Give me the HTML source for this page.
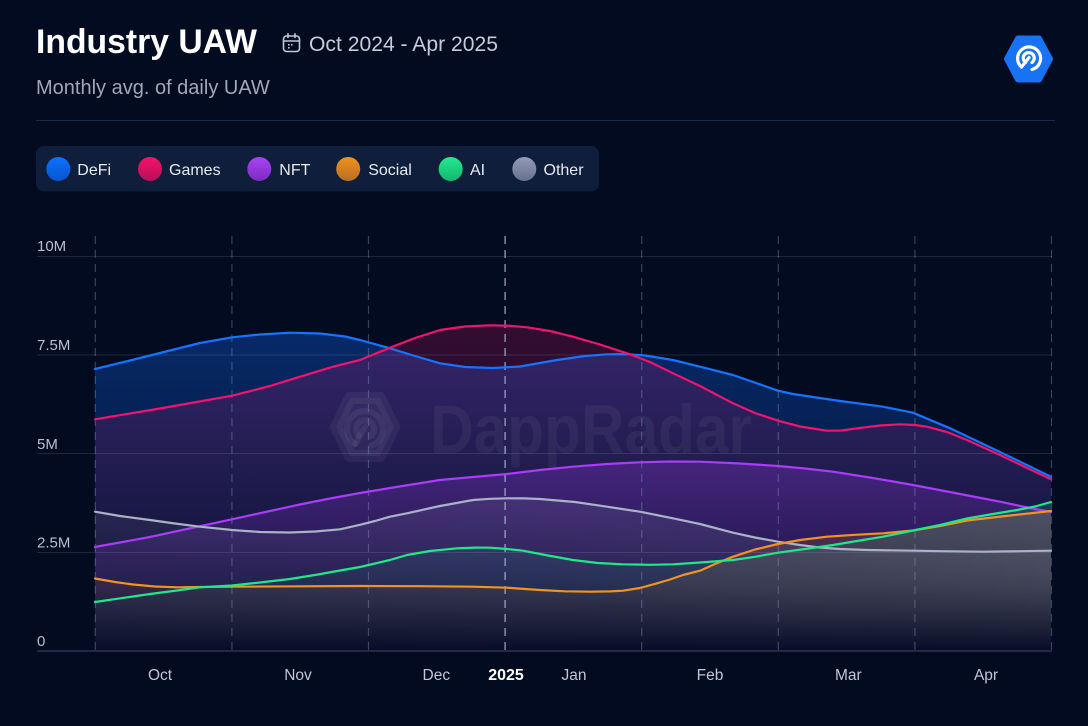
<!DOCTYPE html>
<html>
<head>
<meta charset="utf-8">
<style>
  html,body{margin:0;padding:0;}
  body{width:1088px;height:726px;background:#020b20;overflow:hidden;position:relative;font-family:"Liberation Sans",Arial,sans-serif;}
</style>
</head>
<body>
<svg width="1088" height="726" viewBox="0 0 1088 726" xmlns="http://www.w3.org/2000/svg" style="position:absolute;left:0;top:0;font-family:'Liberation Sans',Arial,sans-serif;">
  <defs>
    <linearGradient id="gDeFi" x1="0" y1="0" x2="0" y2="1">
      <stop offset="0" stop-color="#0d4fc0" stop-opacity="0.45"/>
      <stop offset="1" stop-color="#0d4fc0" stop-opacity="0.02"/>
    </linearGradient>
    <linearGradient id="gGames" x1="0" y1="0" x2="0" y2="1">
      <stop offset="0" stop-color="#e0136f" stop-opacity="0.22"/>
      <stop offset="1" stop-color="#e0136f" stop-opacity="0.01"/>
    </linearGradient>
    <linearGradient id="gNFT" x1="0" y1="0" x2="0" y2="1">
      <stop offset="0" stop-color="#a53bf5" stop-opacity="0.26"/>
      <stop offset="1" stop-color="#a53bf5" stop-opacity="0.01"/>
    </linearGradient>
    <linearGradient id="gSocial" x1="0" y1="0" x2="0" y2="1">
      <stop offset="0" stop-color="#f3921c" stop-opacity="0.18"/>
      <stop offset="0.55" stop-color="#f3921c" stop-opacity="0.12"/>
      <stop offset="1" stop-color="#f3921c" stop-opacity="0"/>
    </linearGradient>
    <linearGradient id="gAI" x1="0" y1="0" x2="0" y2="1">
      <stop offset="0" stop-color="#1ee88a" stop-opacity="0.17"/>
      <stop offset="0.55" stop-color="#1ee88a" stop-opacity="0.1"/>
      <stop offset="1" stop-color="#1ee88a" stop-opacity="0"/>
    </linearGradient>
    <linearGradient id="gOther" x1="0" y1="0" x2="0" y2="1">
      <stop offset="0" stop-color="#8a95b0" stop-opacity="0.2"/>
      <stop offset="0.55" stop-color="#8a95b0" stop-opacity="0.12"/>
      <stop offset="1" stop-color="#8a95b0" stop-opacity="0"/>
    </linearGradient>
    <linearGradient id="hmaskg" gradientUnits="userSpaceOnUse" x1="95" y1="0" x2="1051" y2="0">
      <stop offset="0" stop-color="#ffffff" stop-opacity="0.6"/>
      <stop offset="0.5" stop-color="#ffffff" stop-opacity="0.75"/>
      <stop offset="1" stop-color="#ffffff" stop-opacity="1"/>
    </linearGradient>
    <mask id="hmask" maskUnits="userSpaceOnUse" x="0" y="0" width="1088" height="726">
      <rect x="0" y="0" width="1088" height="726" fill="url(#hmaskg)"/>
    </mask>
    <linearGradient id="lgDeFi" x1="0" y1="0" x2="0" y2="1"><stop offset="0" stop-color="#0b72ff"/><stop offset="1" stop-color="#0a55cc"/></linearGradient>
    <linearGradient id="lgGames" x1="0" y1="0" x2="0" y2="1"><stop offset="0" stop-color="#f7126c"/><stop offset="1" stop-color="#b80f58"/></linearGradient>
    <linearGradient id="lgNFT" x1="0" y1="0" x2="0" y2="1"><stop offset="0" stop-color="#a944f5"/><stop offset="1" stop-color="#7b2cc0"/></linearGradient>
    <linearGradient id="lgSocial" x1="0" y1="0" x2="0" y2="1"><stop offset="0" stop-color="#f0921e"/><stop offset="1" stop-color="#b86f22"/></linearGradient>
    <linearGradient id="lgAI" x1="0" y1="0" x2="0" y2="1"><stop offset="0" stop-color="#22ea8f"/><stop offset="1" stop-color="#12b86e"/></linearGradient>
    <linearGradient id="lgOther" x1="0" y1="0" x2="0" y2="1"><stop offset="0" stop-color="#939cb6"/><stop offset="1" stop-color="#66708d"/></linearGradient>
  </defs>

  <!-- Header -->
  <text x="36" y="53" font-size="34" font-weight="bold" fill="#ffffff" textLength="221" lengthAdjust="spacingAndGlyphs">Industry UAW</text>
  <g stroke="#c0c7d5" stroke-width="1.6" fill="none" stroke-linecap="round">
    <rect x="283.5" y="36" width="16" height="15.5" rx="3"/>
    <line x1="283.5" y1="41" x2="299.5" y2="41"/>
    <line x1="288" y1="33.8" x2="288" y2="37.5"/>
    <line x1="295" y1="33.8" x2="295" y2="37.5"/>
  </g>
  <g fill="#c0c7d5">
    <rect x="288" y="44" width="1.6" height="1.6"/>
    <rect x="291" y="44" width="1.6" height="1.6"/>
    <rect x="288" y="47" width="1.6" height="1.6"/>
  </g>
  <text x="309" y="51" font-size="21" fill="#c5ccd8" textLength="189" lengthAdjust="spacingAndGlyphs">Oct 2024 - Apr 2025</text>
  <text x="36" y="94" font-size="20" fill="#a0a8b8">Monthly avg. of daily UAW</text>

  <!-- Logo -->
  <polygon points="1007,59 1018,38.5 1039,38.5 1050,59 1039,79.5 1018,79.5" fill="#1773f3" stroke="#1773f3" stroke-width="6" stroke-linejoin="round"/>
  <g stroke="#ffffff" stroke-width="3.2" fill="none" stroke-linecap="round">
    <path d="M1021.5,67 A11.5,11.5 0 1 1 1032,69.5"/>
    <path d="M1025.5,62.5 A5.5,5.5 0 1 1 1032,62.5"/>
    <line x1="1029" y1="57.5" x2="1021.5" y2="67"/>
  </g>

  <!-- separator -->
  <line x1="36" y1="120.5" x2="1055" y2="120.5" stroke="#1b2a47" stroke-width="1"/>

  <!-- Legend -->
  <rect x="36" y="146" width="563" height="45.5" rx="8" fill="#0f1e3b"/>
  <circle cx="58.3" cy="169" r="12" fill="url(#lgDeFi)"/>
  <text x="77.3" y="175" font-size="16" fill="#e6e9f0">DeFi</text>
  <circle cx="150" cy="169" r="12" fill="url(#lgGames)"/>
  <text x="169" y="175" font-size="16" fill="#e6e9f0">Games</text>
  <circle cx="259.3" cy="169" r="12" fill="url(#lgNFT)"/>
  <text x="279.3" y="175" font-size="16" fill="#e6e9f0">NFT</text>
  <circle cx="348.2" cy="169" r="12" fill="url(#lgSocial)"/>
  <text x="368.2" y="175" font-size="16" fill="#e6e9f0">Social</text>
  <circle cx="450.7" cy="169" r="12" fill="url(#lgAI)"/>
  <text x="470" y="175" font-size="16" fill="#e6e9f0">AI</text>
  <circle cx="524.3" cy="169" r="12" fill="url(#lgOther)"/>
  <text x="543.5" y="175" font-size="16" fill="#e6e9f0">Other</text>

  <!-- Area fills -->
  <path fill="url(#gDeFi)" d="M95,369 L128,361 L160,353 L200,343 L232,337.3 L260,334.5 L290,332.7 L320,333.5 L345,336.5 L360,340 L390,348.3 L415,356 L440,363.3 L465,367 L493,368 L520,366.5 L557,360 L585,356 L607,354.3 L625,354 L645,355.5 L673,360 L700,366.7 L733,375 L778,390.7 L793,394 L833,400 L883,406.7 L913,412.7 L950,428.3 L1000,452 L1051,476.7 L1051,651 L95,651 Z"/>
  <path fill="url(#gGames)" d="M95,419.3 L160,408.5 L232,395.7 L270,386 L300,376.7 L333,366.7 L360,360 L390,347.7 L415,338 L440,330 L465,326.5 L490,325.3 L510,325.8 L527,327.3 L550,331 L573,336.7 L600,344.5 L630,354.3 L650,362 L673,373.3 L700,386 L733,403.3 L755,413 L778,420.7 L800,426.5 L827,430.7 L842,430.5 L857,428.3 L880,425.5 L900,424.3 L915,425 L927,426.7 L947,432 L967,440 L1000,455 L1025,467 L1051,479.3 L1051,651 L95,651 Z"/>
  <path fill="url(#gNFT)" d="M95,547 L150,537 L200,526.2 L232,519.3 L270,511 L300,504.5 L330,498.5 L360,493 L390,488 L440,480 L473,477 L507,474 L540,470 L573,466.7 L607,464 L640,462.3 L670,461.5 L700,461.7 L740,463.5 L778,466 L805,468.5 L833,471.7 L873,478 L913,485 L955,493 L1000,501.7 L1025,507 L1051,512 L1051,651 L95,651 Z"/>
  <g mask="url(#hmask)">
  <path fill="url(#gSocial)" d="M95,578.5 L115,582 L133,584.5 L155,586.5 L177,587.3 L200,587 L232,586.7 L300,586.3 L360,586 L420,586.2 L473,586.7 L507,587.7 L525,589 L540,590 L565,591.3 L590,591.7 L610,591.4 L623,590.7 L640,588 L657,583.3 L670,579.5 L683,575 L700,570.7 L715,564 L733,556.7 L755,549.5 L778,544 L800,540 L827,536.7 L855,534.8 L883,533.3 L913,530.5 L940,526 L967,520.5 L1010,515.5 L1051,511 L1051,651 L95,651 Z"/>
  <path fill="url(#gAI)" d="M95,602 L150,594 L177,590.5 L200,587.3 L232,585.5 L260,582.5 L290,579 L315,575 L340,570.5 L360,567 L375,563.5 L390,560 L407,555 L430,551 L457,548.3 L475,547.6 L490,547.7 L507,549 L523,550.7 L548,555.5 L573,560 L598,563 L623,564.3 L650,564.8 L673,564.3 L700,562.5 L733,560 L755,556.8 L778,552.7 L805,549 L833,545 L860,540.5 L883,536.7 L913,530.5 L940,525 L967,518.5 L990,514.5 L1017,510 L1035,506.5 L1051,502 L1051,651 L95,651 Z"/>
  <path fill="url(#gOther)" d="M95,511.7 L120,516 L150,520 L175,523.5 L200,526.7 L232,530 L260,532 L290,532.5 L315,531.5 L340,529.3 L360,524.8 L375,521 L390,516.7 L407,513.3 L440,506 L473,500 L490,498.8 L507,498.3 L525,498.4 L540,499 L575,502 L607,506.7 L640,511.7 L673,518.3 L700,524 L733,532.7 L755,537.5 L778,541.7 L800,545 L820,547.5 L840,549 L867,550 L913,550.7 L950,551.3 L983,551.7 L1020,551.2 L1051,550.7 L1051,651 L95,651 Z"/>
  </g>

  <!-- Watermark -->
  <g fill="#ffffff" fill-opacity="0.05">
    <polygon points="336,427 350,398 380,398 394,427 380,456 350,456" stroke="#ffffff" stroke-opacity="0.05" stroke-width="12" stroke-linejoin="round"/>
  </g>
  <g stroke="#ffffff" stroke-opacity="0.06" stroke-width="6" fill="none" stroke-linecap="round">
    <path d="M355,444 A18,18 0 1 1 371,446"/>
    <path d="M359,436 A9,9 0 1 1 371,436"/>
    <line x1="365" y1="427" x2="355" y2="444"/>
  </g>
  <text x="430" y="453" font-size="69" font-weight="bold" fill="#ffffff" fill-opacity="0.05" textLength="322" lengthAdjust="spacingAndGlyphs">DappRadar</text>

  <!-- Grid -->
  <g stroke="#8c9bc8" stroke-opacity="0.2" stroke-width="1">
    <line x1="37" y1="256.5" x2="1052" y2="256.5"/>
    <line x1="37" y1="355" x2="1052" y2="355"/>
    <line x1="37" y1="453.5" x2="1052" y2="453.5"/>
    <line x1="37" y1="552.5" x2="1052" y2="552.5"/>
  </g>
  <line x1="37" y1="651" x2="1052" y2="651" stroke="#8c9bc8" stroke-opacity="0.35" stroke-width="1.2"/>
  <g stroke="#8c9bc8" stroke-opacity="0.38" stroke-width="1.2" stroke-dasharray="8 6">
    <line x1="95.3" y1="236" x2="95.3" y2="651"/>
    <line x1="231.9" y1="236" x2="231.9" y2="651"/>
    <line x1="368.5" y1="236" x2="368.5" y2="651"/>
    <line x1="641.7" y1="236" x2="641.7" y2="651"/>
    <line x1="778.3" y1="236" x2="778.3" y2="651"/>
    <line x1="914.9" y1="236" x2="914.9" y2="651"/>
    <line x1="1051.5" y1="236" x2="1051.5" y2="651"/>
  </g>
  <line x1="505.1" y1="236" x2="505.1" y2="651" stroke="#aab4d8" stroke-opacity="0.7" stroke-width="1.6" stroke-dasharray="8 6"/>

  <!-- Lines -->
  <g fill="none" stroke-width="2.2" stroke-linejoin="round" stroke-linecap="round">
    <path stroke="#1573ff" d="M95,369 L128,361 L160,353 L200,343 L232,337.3 L260,334.5 L290,332.7 L320,333.5 L345,336.5 L360,340 L390,348.3 L415,356 L440,363.3 L465,367 L493,368 L520,366.5 L557,360 L585,356 L607,354.3 L625,354 L645,355.5 L673,360 L700,366.7 L733,375 L778,390.7 L793,394 L833,400 L883,406.7 L913,412.7 L950,428.3 L1000,452 L1051,476.7"/>
    <path stroke="#f0136f" d="M95,419.3 L160,408.5 L232,395.7 L270,386 L300,376.7 L333,366.7 L360,360 L390,347.7 L415,338 L440,330 L465,326.5 L490,325.3 L510,325.8 L527,327.3 L550,331 L573,336.7 L600,344.5 L630,354.3 L650,362 L673,373.3 L700,386 L733,403.3 L755,413 L778,420.7 L800,426.5 L827,430.7 L842,430.5 L857,428.3 L880,425.5 L900,424.3 L915,425 L927,426.7 L947,432 L967,440 L1000,455 L1025,467 L1051,479.3"/>
    <path stroke="#a83cf7" d="M95,547 L150,537 L200,526.2 L232,519.3 L270,511 L300,504.5 L330,498.5 L360,493 L390,488 L440,480 L473,477 L507,474 L540,470 L573,466.7 L607,464 L640,462.3 L670,461.5 L700,461.7 L740,463.5 L778,466 L805,468.5 L833,471.7 L873,478 L913,485 L955,493 L1000,501.7 L1025,507 L1051,512"/>
    <path stroke="#a9b2c6" d="M95,511.7 L120,516 L150,520 L175,523.5 L200,526.7 L232,530 L260,532 L290,532.5 L315,531.5 L340,529.3 L360,524.8 L375,521 L390,516.7 L407,513.3 L440,506 L473,500 L490,498.8 L507,498.3 L525,498.4 L540,499 L575,502 L607,506.7 L640,511.7 L673,518.3 L700,524 L733,532.7 L755,537.5 L778,541.7 L800,545 L820,547.5 L840,549 L867,550 L913,550.7 L950,551.3 L983,551.7 L1020,551.2 L1051,550.7"/>
    <path stroke="#f3921c" d="M95,578.5 L115,582 L133,584.5 L155,586.5 L177,587.3 L200,587 L232,586.7 L300,586.3 L360,586 L420,586.2 L473,586.7 L507,587.7 L525,589 L540,590 L565,591.3 L590,591.7 L610,591.4 L623,590.7 L640,588 L657,583.3 L670,579.5 L683,575 L700,570.7 L715,564 L733,556.7 L755,549.5 L778,544 L800,540 L827,536.7 L855,534.8 L883,533.3 L913,530.5 L940,526 L967,520.5 L1010,515.5 L1051,511"/>
    <path stroke="#1ee88a" d="M95,602 L150,594 L177,590.5 L200,587.3 L232,585.5 L260,582.5 L290,579 L315,575 L340,570.5 L360,567 L375,563.5 L390,560 L407,555 L430,551 L457,548.3 L475,547.6 L490,547.7 L507,549 L523,550.7 L548,555.5 L573,560 L598,563 L623,564.3 L650,564.8 L673,564.3 L700,562.5 L733,560 L755,556.8 L778,552.7 L805,549 L833,545 L860,540.5 L883,536.7 L913,530.5 L940,525 L967,518.5 L990,514.5 L1017,510 L1035,506.5 L1051,502"/>
  </g>

  <!-- Y labels -->
  <g font-size="15" fill="#b8bfcf">
    <text x="37" y="251">10M</text>
    <text x="37" y="350">7.5M</text>
    <text x="37" y="449">5M</text>
    <text x="37" y="547.5">2.5M</text>
    <text x="37" y="646">0</text>
  </g>
  <!-- X labels -->
  <g font-size="15.5" fill="#c0c6d4" text-anchor="middle">
    <text x="160" y="680">Oct</text>
    <text x="298" y="680">Nov</text>
    <text x="436.3" y="680">Dec</text>
    <text x="574" y="680">Jan</text>
    <text x="710" y="680">Feb</text>
    <text x="848.3" y="680">Mar</text>
    <text x="986" y="680">Apr</text>
  </g>
  <text x="506" y="680" font-size="16" font-weight="bold" fill="#ffffff" text-anchor="middle">2025</text>
</svg>
</body>
</html>
